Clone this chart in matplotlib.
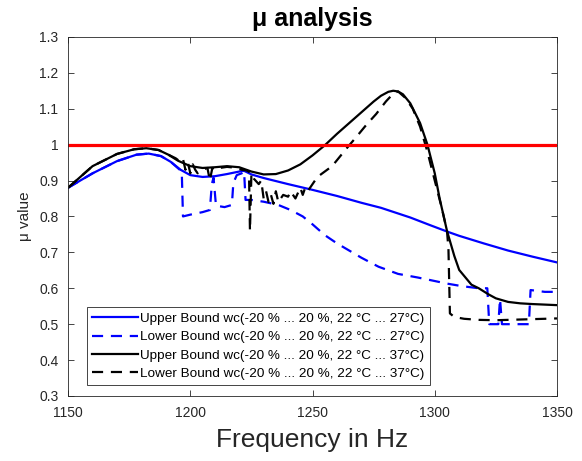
import matplotlib
matplotlib.use("Agg")
import matplotlib.pyplot as plt
from matplotlib.ticker import FormatStrFormatter

plt.rcParams['font.family'] = ['Liberation Sans', 'DejaVu Sans']

# upper bound, 22..27 degC
f_up27 = [1150, 1160, 1170, 1178, 1183, 1188, 1192, 1196, 1200, 1205, 1210, 1215, 1220, 1222,
          1225, 1230, 1240, 1250, 1260, 1270, 1278, 1290, 1298, 1305, 1310, 1320, 1330,
          1340, 1350]
mu_up27 = [0.88, 0.92, 0.954, 0.972, 0.975, 0.968, 0.952, 0.93, 0.915, 0.91, 0.912, 0.918, 0.925, 0.927,
           0.917, 0.907, 0.89, 0.874, 0.857, 0.838, 0.824, 0.797, 0.776, 0.758, 0.746, 0.725, 0.705,
           0.688, 0.672]

# lower bound, 22..27 degC
f_lo27 = [1150, 1160, 1170, 1178, 1183, 1188, 1192, 1196.5, 1197, 1200, 1205, 1208, 1208.8,
          1209.5, 1210.5, 1214, 1217, 1217.6, 1219, 1221, 1222, 1222.6, 1225, 1230, 1236, 1241,
          1246, 1250, 1255, 1260, 1265, 1270, 1277, 1285, 1293, 1298, 1305, 1311, 1318, 1321.5,
          1322.3, 1326, 1326.7, 1327.5, 1338.5, 1339.2, 1345, 1350]
mu_lo27 = [0.88, 0.92, 0.954, 0.972, 0.975, 0.968, 0.952, 0.925, 0.80, 0.805, 0.812, 0.818, 0.89,
           0.908, 0.83, 0.826, 0.832, 0.893, 0.915, 0.92, 0.925, 0.846, 0.846, 0.841, 0.832, 0.818,
           0.80, 0.778, 0.748, 0.725, 0.705, 0.685, 0.66, 0.64, 0.63, 0.623, 0.613, 0.606, 0.60, 0.60,
           0.50, 0.50, 0.57, 0.50, 0.50, 0.595, 0.59, 0.59]

# upper bound, 22..37 degC
f_up37 = [1150, 1160, 1170, 1177, 1182, 1187, 1191, 1195, 1200, 1205, 1210, 1215, 1220, 1225, 1230,
          1235, 1240, 1245, 1250, 1255, 1260, 1265, 1270, 1275, 1278, 1281, 1283, 1285, 1287, 1290,
          1294, 1297, 1300, 1302, 1305, 1308, 1310, 1315, 1318, 1322, 1325, 1330, 1335, 1340, 1350]
mu_up37 = [0.88, 0.94, 0.974, 0.987, 0.99, 0.985, 0.972, 0.955, 0.94, 0.935, 0.937, 0.94, 0.937,
           0.925, 0.917, 0.918, 0.928, 0.945, 0.97, 0.998, 1.03, 1.06, 1.09, 1.12, 1.136, 1.147,
           1.15, 1.148, 1.14, 1.115, 1.06, 1.0, 0.92, 0.85, 0.76, 0.69, 0.651, 0.61, 0.60, 0.583,
           0.572, 0.562, 0.558, 0.556, 0.553]

# lower bound, 22..37 degC
f_lo37 = [1150, 1160, 1170, 1177, 1182, 1187, 1191, 1194, 1196, 1197, 1198, 1199, 1200, 1201, 1202,
          1203, 1205, 1207, 1208, 1209, 1210, 1212, 1215, 1218, 1221, 1223, 1224, 1224.4, 1225,
          1226, 1228, 1229, 1230, 1231, 1232, 1233, 1234, 1235, 1236, 1238, 1240, 1241, 1243,
          1245, 1246, 1247, 1248, 1250, 1252, 1255, 1258, 1261, 1264, 1268, 1272, 1276, 1280,
          1283, 1285, 1288, 1291, 1294, 1297, 1300, 1303, 1305, 1305.6, 1306.2, 1308, 1312,
          1318, 1325, 1335, 1345, 1350]
mu_lo37 = [0.88, 0.94, 0.974, 0.987, 0.99, 0.985, 0.972, 0.962, 0.952, 0.96, 0.93, 0.95, 0.92, 0.945,
           0.93, 0.92, 0.93, 0.935, 0.9, 0.935, 0.93, 0.935, 0.938, 0.936, 0.93, 0.928, 0.925, 0.76,
           0.92, 0.905, 0.89, 0.9, 0.85, 0.87, 0.84, 0.86, 0.835, 0.87, 0.84, 0.86, 0.855, 0.87, 0.85,
           0.88, 0.86, 0.88, 0.87, 0.89, 0.91, 0.925, 0.94, 0.965, 0.99, 1.022, 1.055, 1.085, 1.12,
           1.142, 1.148, 1.13, 1.1, 1.05, 0.98, 0.9, 0.82, 0.76, 0.71, 0.53, 0.52, 0.515, 0.512,
           0.511, 0.513, 0.515, 0.516]

limit = 1.0
labels = ['Upper Bound wc(-20 % ... 20 %, 22 \u00b0C ... 27\u00b0C)',
          'Lower Bound wc(-20 % ... 20 %, 22 \u00b0C ... 27\u00b0C)',
          'Upper Bound wc(-20 % ... 20 %, 22 \u00b0C ... 37\u00b0C)',
          'Lower Bound wc(-20 % ... 20 %, 22 \u00b0C ... 37\u00b0C)']

fig = plt.figure(figsize=(5.82, 4.61), dpi=100)
ax = fig.add_axes([0.117, 0.141, 0.840, 0.779])

dash = (5, 3.5)
ax.plot(f_up27, mu_up27, color='#0000ff', lw=1.6, label=labels[0])
ax.plot(f_lo27, mu_lo27, color='#0000ff', lw=1.6, ls='--', dashes=dash, label=labels[1])
ax.plot(f_up37, mu_up37, color='black', lw=1.6, label=labels[2])
ax.plot(f_lo37, mu_lo37, color='black', lw=1.6, ls='--', dashes=dash, label=labels[3])
ax.axhline(limit, color='#ff0000', lw=2.3)

ax.set_xlim(1150, 1350)
ax.set_ylim(0.3, 1.3)
ax.set_xticks([1150, 1200, 1250, 1300, 1350])
ax.set_yticks([0.3, 0.4, 0.5, 0.6, 0.7, 0.8, 0.9, 1.0, 1.1, 1.2, 1.3])
ax.yaxis.set_major_formatter(FormatStrFormatter('%g'))
ax.tick_params(direction='in', length=4, width=0.6, labelsize=10, colors='#262626',
               top=True, right=True, pad=7)
for s in ax.spines.values():
    s.set_linewidth(0.6)
    s.set_color('#262626')

ax.set_title('\u03bc analysis', fontsize=18, fontweight='bold', pad=8)
ax.set_xlabel('Frequency in Hz', fontsize=19, color='#262626', labelpad=6)
ax.set_ylabel('\u03bc value', fontsize=11, color='#262626', labelpad=5)

leg = ax.legend(loc='lower left', fontsize=9.7, handlelength=3.4, handletextpad=0.15,
                borderpad=0.4, labelspacing=0.43, fancybox=False, framealpha=1,
                bbox_to_anchor=(0.038, 0.03), borderaxespad=0)
leg.get_frame().set_edgecolor('#262626')
leg.get_frame().set_linewidth(0.6)

fig.savefig('out.png', dpi=100)
